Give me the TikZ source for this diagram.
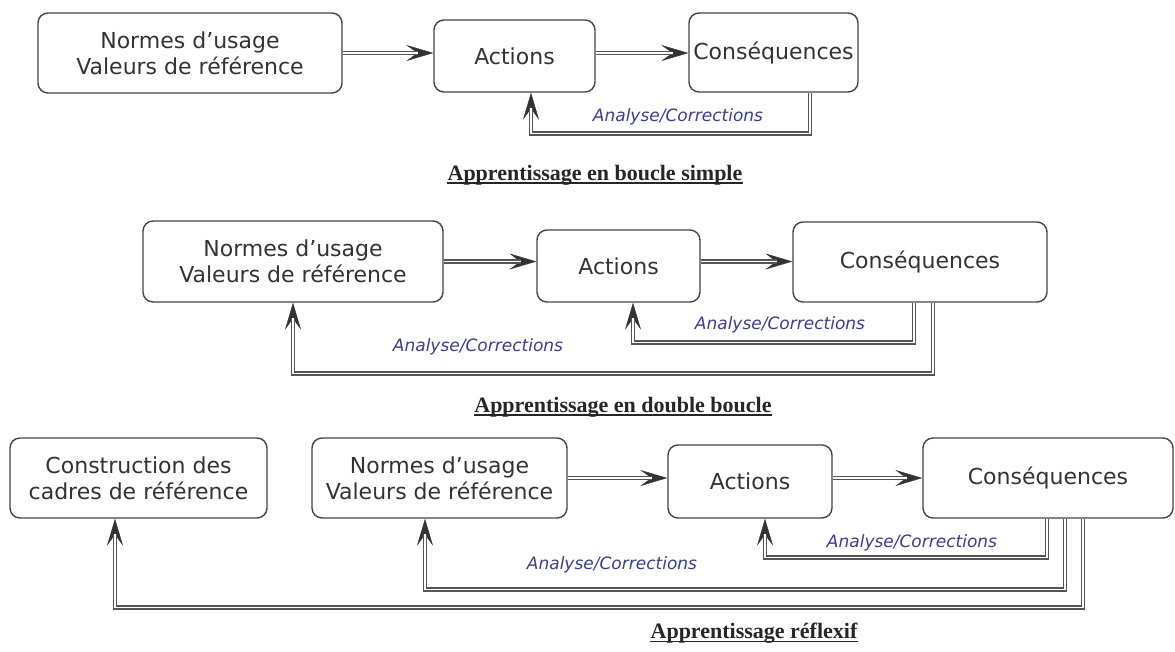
\documentclass[tikz,border=0pt]{standalone}
\usepackage{fontspec}
\setmainfont{DejaVu Sans}
\newfontfamily\titlefont{Liberation Serif}
\usetikzlibrary{arrows.meta}

\definecolor{boxline}{HTML}{444444}
\definecolor{boxtext}{HTML}{333333}
\definecolor{linkgray}{HTML}{555555}
\definecolor{fbtext}{HTML}{3C3C8C}

\tikzset{
  box/.style={draw=boxline, line width=1.4pt, rounded corners=10pt, fill=white,
    align=center, text=boxtext, font=\fontsize{22}{26}\selectfont, inner sep=0pt},
  % arrow head: filled stealth, its thin guide line is hidden under the shaft
  linktip/.style={draw=boxtext, line width=0.4pt,
    -{Stealth[length=27pt,width=16pt,inset=11pt,fill=boxtext]}},
  % double shaft, stopping just inside the solid part of the head
  linkline/.style={draw=linkgray, line width=1.5pt, double=white, double distance=1.5pt,
    shorten >=15.5pt},
  fblabel/.style={text=fbtext, font=\fontsize{17}{20}\selectfont\itshape, inner sep=0pt},
  caption/.style={font=\titlefont\bfseries\fontsize{22}{26}\selectfont, text=black!85, inner sep=0pt},
  uline/.style={draw=black!85, line width=1.6pt},
}
\newcommand\linkpath[1]{\draw[linktip] #1; \draw[linkline] #1;}

\begin{document}
\begin{tikzpicture}[x=1pt,y=-1pt]
\useasboundingbox (0,0) rectangle (1175,651);

% --- single loop ---
\node[box, minimum width=304pt, minimum height=80pt] (n1) at (190,53) {Normes d'usage\\Valeurs de référence};
\node[box, minimum width=161pt, minimum height=72pt] (a1) at (514.5,56) {Actions};
\node[box, minimum width=169pt, minimum height=79pt] (c1) at (773.5,52.5) {Conséquences};
\linkpath{(n1.east) -- (a1.west |- n1.east)}
\linkpath{(a1.east |- n1.east) -- (c1.west |- n1.east)}
\linkpath{([xshift=36.5pt]c1.south) -- ++(0,41) -| ([xshift=16.5pt]a1.south)}
\node[fblabel] (l1) at (678,117) {Analyse/Corrections};
\node[caption] (t1) at (595,175) {Apprentissage en boucle simple};
\draw[uline] ([yshift=-3pt]t1.base west) -- ([yshift=-3pt]t1.base east);

% --- double loop ---
\node[box, minimum width=300pt, minimum height=81pt] (n2) at (293,261.5) {Normes d'usage\\Valeurs de référence};
\node[box, minimum width=163pt, minimum height=72pt] (a2) at (618.5,266) {Actions};
\node[box, minimum width=254pt, minimum height=80pt] (c2) at (920,262) {Conséquences};
\linkpath{(n2.east) -- (a2.west |- n2.east)}
\linkpath{(a2.east |- n2.east) -- (c2.west |- n2.east)}
\linkpath{([xshift=-6pt]c2.south) -- ++(0,40) -| ([xshift=14.5pt]a2.south)}
\linkpath{([xshift=13pt]c2.south) -- ++(0,71) -| (n2.south)}
\node[fblabel] (l2a) at (780,325) {Analyse/Corrections};
\node[fblabel] (l2b) at (478,347) {Analyse/Corrections};
\node[caption] (t2) at (623,407) {Apprentissage en double boucle};
\draw[uline] ([yshift=-3pt]t2.base west) -- ([yshift=-3pt]t2.base east);

% --- reflexive learning ---
\node[box, minimum width=257pt, minimum height=80pt] (r3) at (138.5,478) {Construction des\\cadres de référence};
\node[box, minimum width=255pt, minimum height=80pt] (n3) at (439.5,478) {Normes d'usage\\Valeurs de référence};
\node[box, minimum width=164pt, minimum height=73pt] (a3) at (750,481.5) {Actions};
\node[box, minimum width=250pt, minimum height=80pt] (c3) at (1048,478) {Conséquences};
\linkpath{(n3.east) -- (a3.west |- n3.east)}
\linkpath{(a3.east |- n3.east) -- (c3.west |- n3.east)}
\linkpath{([xshift=-1pt]c3.south) -- ++(0,39) -| ([xshift=15pt]a3.south)}
\linkpath{([xshift=17pt]c3.south) -- ++(0,71) -| ([xshift=-14.5pt]n3.south)}
\linkpath{([xshift=35pt]c3.south) -- ++(0,89) -| ([xshift=-23.5pt]r3.south)}
\node[fblabel] (l3a) at (912,543) {Analyse/Corrections};
\node[fblabel] (l3b) at (612,565) {Analyse/Corrections};
\node[caption] (t3) at (754,633) {Apprentissage réflexif};
\draw[uline] ([yshift=-3pt]t3.base west) -- ([yshift=-3pt]t3.base east);
\end{tikzpicture}
\end{document}
